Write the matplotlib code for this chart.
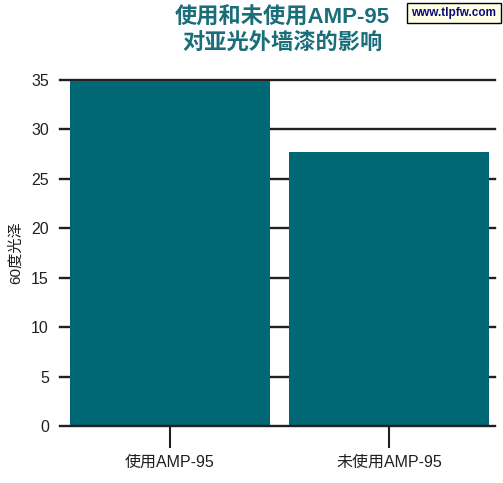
import matplotlib
matplotlib.use("Agg")
import matplotlib.pyplot as plt

plt.rcParams['font.family'] = ['Liberation Sans', 'Noto Sans CJK SC', 'DejaVu Sans']

categories = ["使用AMP-95", "未使用AMP-95"]
values = [34.9, 27.7]
yticks = [0, 5, 10, 15, 20, 25, 30, 35]

bar_color = "#006875"
title_color = "#1a6e7a"
grid_color = "#231f20"

fig = plt.figure(figsize=(5.03, 4.83), dpi=100)
ax = fig.add_axes([60/503, 1-426/483, 435/503, 346/483])

xpos = list(range(len(categories)))
ax.bar(xpos, values, width=0.913, color=bar_color, zorder=2)
for y in yticks:
    ax.axhline(y, color=grid_color, lw=1.7, zorder=1 if y > 0 else 3, clip_on=False)

ax.set_xlim(-0.502, 1.484)
ax.set_ylim(0, 35)
ax.set_yticks(yticks)
ax.set_yticklabels([str(t) for t in yticks], fontsize=11.5)
ax.tick_params(axis='y', length=0, pad=8, labelcolor="#231f20")
ax.set_xticks(xpos)
ax.set_xticklabels(categories, fontsize=11.5)
ax.tick_params(axis='x', length=16, width=1.5, color=grid_color, pad=5, labelcolor="#231f20")
for s in ax.spines.values():
    s.set_visible(False)

ax.set_ylabel("60度光泽", fontsize=11, color="#231f20", labelpad=6)

fig.text(282/503, 1-31/483, "使用和未使用AMP-95\n对亚光外墙漆的影响", ha='center', va='center',
         fontsize=16, fontweight='bold', color=title_color, linespacing=1.25)

fig.text(454/503, 1-13/483, "www.tlpfw.com", ha='center', va='center', fontsize=8.5,
         fontweight='bold', color="#0a0a80",
         bbox=dict(boxstyle='square,pad=0.35', fc="#ffffe6", ec="black", lw=1))

fig.savefig("out.png", dpi=100)
